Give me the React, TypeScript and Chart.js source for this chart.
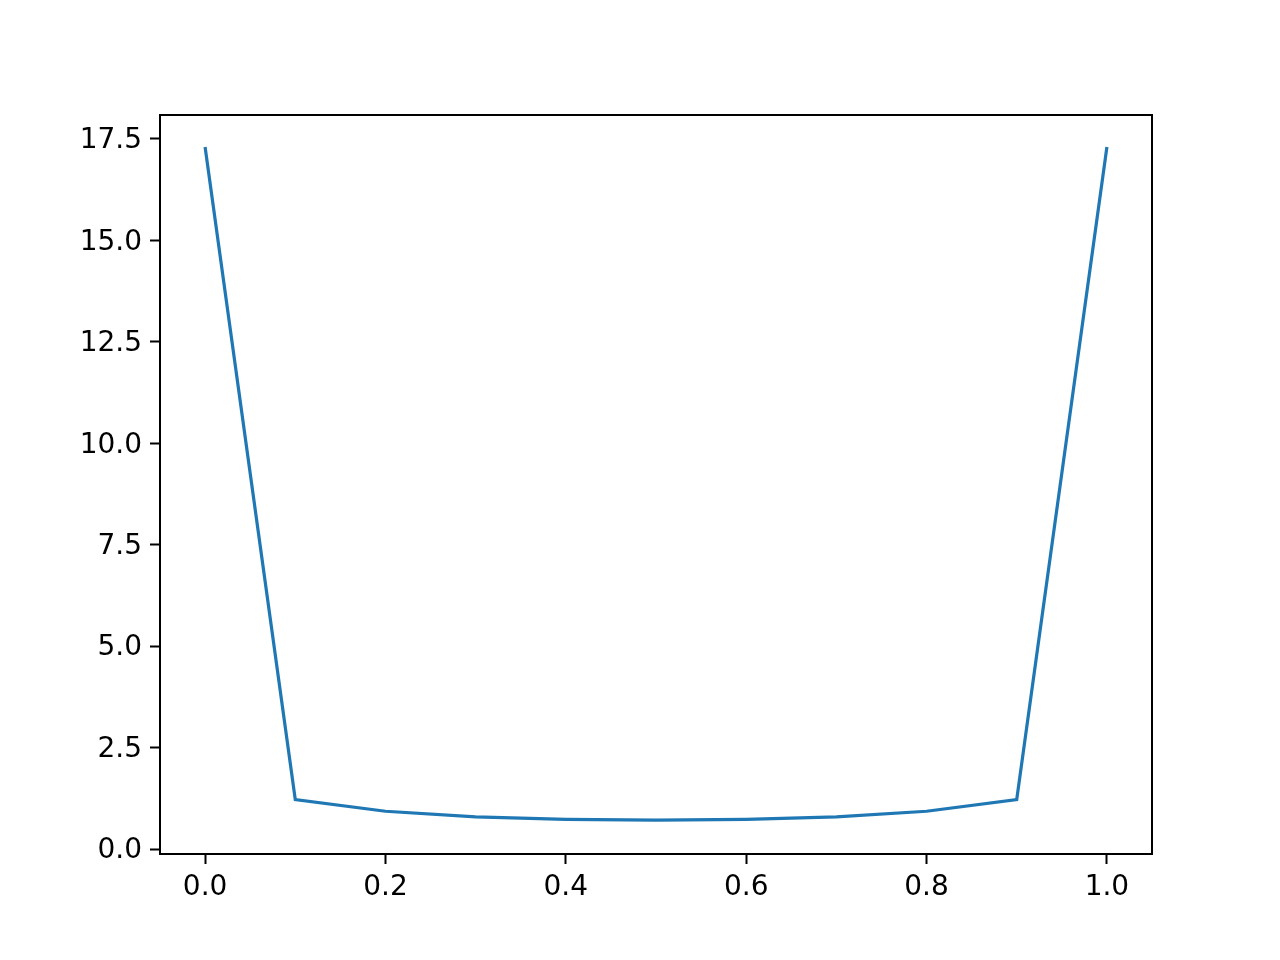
import { useEffect, useRef } from "react";
import { Chart, registerables } from "chart.js";

Chart.register(...registerables);

const xValues = [0, 0.1, 0.2, 0.3, 0.4, 0.5, 0.6, 0.7, 0.8, 0.9, 1.0];
const yValues = [17.3, 1.22, 0.93, 0.79, 0.73, 0.71, 0.73, 0.79, 0.93, 1.22, 17.3];
const xTicks = [0, 0.2, 0.4, 0.6, 0.8, 1.0];
const yTicks = [0, 2.5, 5, 7.5, 10, 12.5, 15, 17.5];

const FONT = { family: "'DejaVu Sans', sans-serif", size: 28 };

// draws the top/right spines too
const framePlugin = {
  id: "frame",
  afterDraw(chart: Chart) {
    const { ctx, chartArea } = chart;
    ctx.save();
    ctx.strokeStyle = "#000";
    ctx.lineWidth = 2;
    ctx.strokeRect(chartArea.left, chartArea.top, chartArea.right - chartArea.left, chartArea.bottom - chartArea.top);
    ctx.restore();
  },
};

export default function App() {
  const canvasRef = useRef<HTMLCanvasElement>(null);
  const chartRef = useRef<Chart | null>(null);

  useEffect(() => {
    if (!canvasRef.current) return;
    if (chartRef.current) chartRef.current.destroy();

    chartRef.current = new Chart(canvasRef.current, {
      type: "line",
      data: {
        datasets: [{
          data: xValues.map((x, i) => ({ x, y: yValues[i] })),
          borderColor: "#1f77b4",
          borderWidth: 3.2,
          pointRadius: 0,
          tension: 0,
          fill: false,
        }],
      },
      options: {
        responsive: false,
        animation: false,
        layout: { padding: { left: 0, top: 115, right: 128, bottom: 0 } },
        plugins: { legend: { display: false }, tooltip: { enabled: false } },
        scales: {
          x: {
            type: "linear",
            min: -0.05,
            max: 1.05,
            afterBuildTicks: (scale: any) => { scale.ticks = xTicks.map(v => ({ value: v })); },
            afterFit: (scale: any) => { scale.height = 106; },
            grid: { drawOnChartArea: false, tickLength: 10, tickWidth: 2, tickColor: "#000" },
            border: { display: true, color: "#000", width: 2 },
            ticks: {
              color: "#000",
              font: FONT,
              padding: 7,
              maxRotation: 0,
              callback: (v: any) => Number(v).toFixed(1),
            },
          },
          y: {
            type: "linear",
            min: -0.123,
            max: 18.09,
            afterBuildTicks: (scale: any) => { scale.ticks = yTicks.map(v => ({ value: v })); },
            afterFit: (scale: any) => { scale.width = 160; },
            grid: { drawOnChartArea: false, tickLength: 10, tickWidth: 2, tickColor: "#000" },
            border: { display: true, color: "#000", width: 2 },
            ticks: {
              color: "#000",
              font: FONT,
              padding: 8,
              labelOffset: 2,
              callback: (v: any) => Number(v).toFixed(1),
            },
          },
        },
      },
      plugins: [framePlugin],
    });

    return () => {
      if (chartRef.current) chartRef.current.destroy();
      chartRef.current = null;
    };
  }, []);

  return (
    <div style={{ position: "fixed", left: 0, top: 0, width: 1280, height: 960, background: "#fff" }}>
      <canvas ref={canvasRef} width={1280} height={960} style={{ width: 1280, height: 960 }} />
    </div>
  );
}
